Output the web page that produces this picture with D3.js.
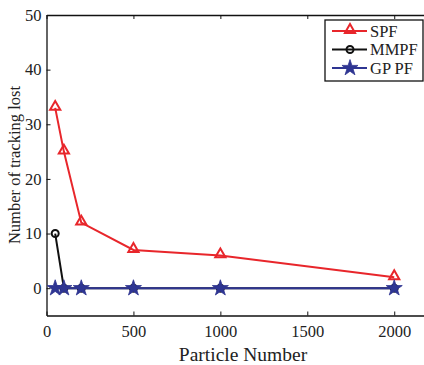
<!DOCTYPE html>
<html>
<head>
<meta charset="utf-8">
<script src="https://cdn.jsdelivr.net/npm/d3@7"></script>
<style>
  body { margin: 0; background: #fff; }
  svg { display: block; font-family: "Liberation Serif", "Times New Roman", serif; }
</style>
</head>
<body>
<svg id="chart" width="424" height="365"></svg>
<script>
// particle counts on the x axis
const particles = [50, 100, 200, 500, 1000, 2000];

// tracking lost per method
const spfValues = [33, 25, 12, 7, 6, 2];
const mmpfValues = [10, 0, 0, 0, 0, 0];
const gppfValues = [0, 0, 0, 0, 0, 0];

const seriesNames = ["SPF", "MMPF", "GP PF"];
const xTicks = [0, 500, 1000, 1500, 2000];
const yTicks = [0, 10, 20, 30, 40, 50];

const red = "#e8262b", black = "#111", blue = "#2e3592";

const svg = d3.select("#chart");
const margin = { left: 46.5, top: 15, right: -5, bottom: 49.5 };
const width = 424 - margin.left - margin.right;
const height = 365 - margin.top - margin.bottom;

const g = svg.append("g").attr("transform", `translate(${margin.left},${margin.top})`);

const x = d3.scaleLinear().domain([0, 2200]).range([0, width]);
const y = d3.scaleLinear().domain([-5, 50]).range([height, 0]);

// axes with inward ticks
const xAxis = g.append("g").attr("transform", `translate(0,${height})`)
  .call(d3.axisBottom(x).tickValues(xTicks).tickFormat(d3.format("d"))
    .tickSizeInner(-4).tickSizeOuter(0).tickPadding(10));
const xTop = g.append("g")
  .call(d3.axisTop(x).tickValues(xTicks).tickSizeInner(-4).tickSizeOuter(0).tickFormat(""));
const yAxis = g.append("g")
  .call(d3.axisLeft(y).tickValues(yTicks).tickSizeInner(-4).tickSizeOuter(0).tickPadding(5));

[xAxis, xTop, yAxis].forEach(a => {
  a.select(".domain").attr("stroke", "#111").attr("stroke-width", 1.3);
  a.selectAll(".tick line").attr("stroke", "#111");
  a.selectAll("text").attr("font-size", 16.5).attr("fill", "#222")
    .attr("font-family", "Liberation Serif");
});

// axis labels
svg.append("text").attr("x", 243).attr("y", 361).attr("text-anchor", "middle")
  .attr("font-size", 19.5).attr("fill", "#222").text("Particle Number");
svg.append("text").attr("transform", "translate(20,165) rotate(-90)")
  .attr("text-anchor", "middle").attr("font-size", 16.5).attr("fill", "#222")
  .text("Number of tracking lost");

const line = d3.line().x(d => x(d[0])).y(d => y(d[1]));
const triangle = d3.symbol().type(d3.symbolTriangle).size(45);
const star = d3.symbol().type(d3.symbolStar).size(80);

function drawSeries(vals, color, marker) {
  const pts = particles.map((p, i) => [p, vals[i]]);
  g.append("path").datum(pts).attr("d", line).attr("fill", "none")
    .attr("stroke", color).attr("stroke-width", 2);
  const m = g.append("g").selectAll("g").data(pts).enter().append("g")
    .attr("transform", d => `translate(${x(d[0])},${y(d[1])})`);
  marker(m, color);
}

const drawTri = (sel, c) => sel.append("path").attr("d", triangle)
  .attr("transform", "translate(0,-1)").attr("fill", "none").attr("stroke", c).attr("stroke-width", 2);
const drawCircle = (sel, c) => sel.append("circle").attr("r", 3.5)
  .attr("fill", "none").attr("stroke", c).attr("stroke-width", 2);
const drawStar = (sel, c) => sel.append("path").attr("d", star)
  .attr("fill", c).attr("stroke", c).attr("stroke-width", 0.8);

drawSeries(spfValues, red, drawTri);
drawSeries(mmpfValues, black, drawCircle);
drawSeries(gppfValues, blue, drawStar);

// legend
const lg = svg.append("g").attr("transform", "translate(325,20)");
lg.append("rect").attr("width", 98).attr("height", 61)
  .attr("fill", "#fff").attr("stroke", "#111").attr("stroke-width", 1.3);
const colors = [red, black, blue];
const markers = [drawTri, drawCircle, drawStar];
seriesNames.forEach((name, i) => {
  const row = lg.append("g").attr("transform", `translate(0,${11 + i * 18.5})`);
  row.append("line").attr("x1", 7).attr("x2", 42).attr("stroke", colors[i]).attr("stroke-width", 2);
  markers[i](row.append("g").attr("transform", "translate(25,0)"), colors[i]);
  row.append("text").attr("x", 45).attr("y", 5.5).attr("font-size", 16.5)
    .attr("fill", "#222").text(name);
});
</script>
</body>
</html>
